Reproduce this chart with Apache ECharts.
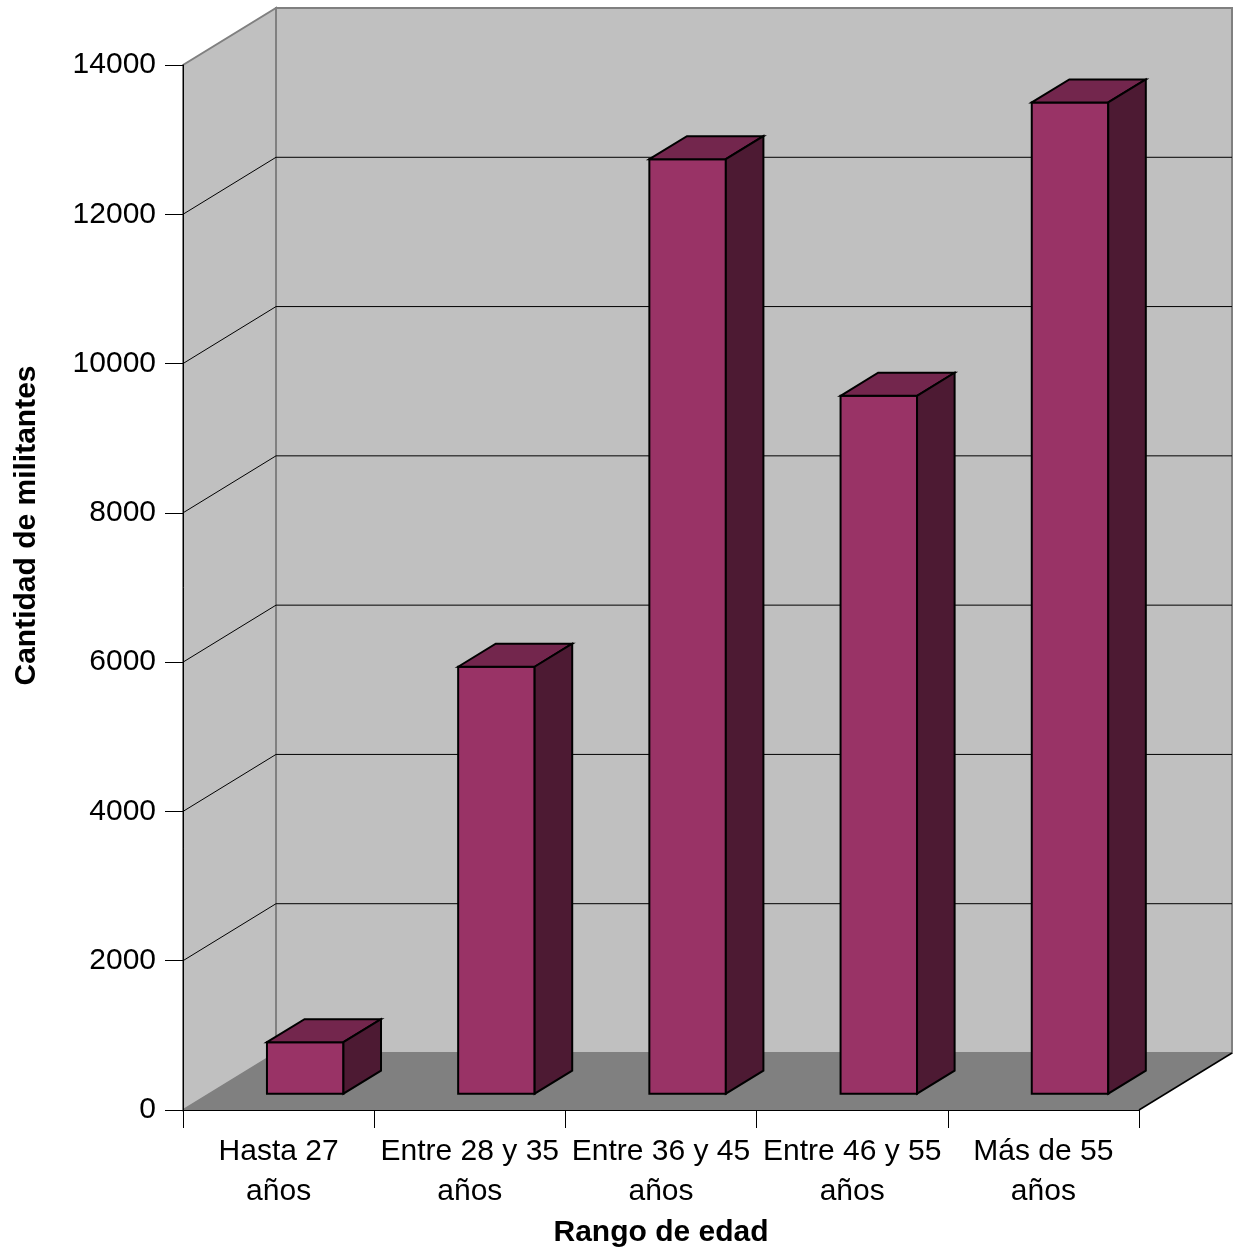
<!DOCTYPE html>
<html>
<head>
<meta charset="utf-8">
<script src="https://cdn.jsdelivr.net/npm/echarts@6/dist/echarts.min.js"></script>
<style>html,body{margin:0;padding:0;background:#fff;}#c{width:1244px;height:1254px;}</style>
</head>
<body>
<div id="c"></div>
<script>
const categories = ['Hasta 27\naños', 'Entre 28 y 35\naños', 'Entre 36 y 45\naños', 'Entre 46 y 55\naños', 'Más de 55\naños'];
const values = [690, 5720, 12520, 9350, 13280];
const yMin = 0, yMax = 14000, yStep = 2000;
const gridValues = [2000, 4000, 6000, 8000, 10000, 12000];

const FONT = "'Liberation Sans', Arial, sans-serif";
const DX = 93, DY = 57;       // depth of the 3D box (pixels)
const F1 = 0.286, F2 = 0.69;  // bar front/back depth fractions
const BAR_W = 0.40;           // bar width as fraction of category band

const chart = echarts.init(document.getElementById('c'), null, {renderer: 'canvas'});

function wallsItem(params, api) {
  const cs = params.coordSys;
  const x0 = cs.x, x1 = cs.x + cs.width;
  const y0 = api.coord([0, yMin])[1];
  const yT = api.coord([0, yMax])[1];
  const children = [];
  children.push({type: 'polygon', shape: {points: [[x0 + DX, yT - DY], [x1 + DX, yT - DY], [x1 + DX, y0 - DY], [x0 + DX, y0 - DY]]},
    style: {fill: '#c0c0c0', stroke: '#808080', lineWidth: 2}});
  children.push({type: 'polygon', shape: {points: [[x0, y0], [x0, yT], [x0 + DX, yT - DY], [x0 + DX, y0 - DY]]},
    style: {fill: '#c0c0c0', stroke: '#808080', lineWidth: 2}});
  gridValues.forEach(v => {
    const y = api.coord([0, v])[1];
    children.push({type: 'polyline', shape: {points: [[x0, y], [x0 + DX, y - DY], [x1 + DX, y - DY]]},
      style: {stroke: '#000', lineWidth: 1, fill: null}});
  });
  children.push({type: 'polygon', shape: {points: [[x0, y0], [x0 + DX, y0 - DY], [x1 + DX, y0 - DY], [x1, y0]]},
    style: {fill: '#808080', stroke: null}});
  children.push({type: 'line', shape: {x1: x1, y1: y0, x2: x1 + DX, y2: y0 - DY},
    style: {stroke: '#000', lineWidth: 1.5}});
  return {type: 'group', children: children};
}

function barItem(params, api) {
  const i = api.value(0), v = api.value(1);
  const base = api.coord([i, 0]);
  const top = api.coord([i, v]);
  const bw = api.size([1, 0])[0];
  const w = bw * BAR_W;
  const fx = base[0] + DX * F1;
  const fb = base[1] - DY * F1;
  const ft = top[1] - DY * F1;
  const dx = DX * (F2 - F1), dy = DY * (F2 - F1);
  const L = fx - w / 2, R = fx + w / 2;
  const st = {stroke: '#000', lineWidth: 2, lineJoin: 'miter'};
  return {type: 'group', children: [
    {type: 'polygon', shape: {points: [[L, ft], [R, ft], [R, fb], [L, fb]]}, style: Object.assign({fill: '#993366'}, st)},
    {type: 'polygon', shape: {points: [[L, ft], [L + dx, ft - dy], [R + dx, ft - dy], [R, ft]]}, style: Object.assign({fill: '#73264d'}, st)},
    {type: 'polygon', shape: {points: [[R, ft], [R + dx, ft - dy], [R + dx, fb - dy], [R, fb]]}, style: Object.assign({fill: '#4d1a33'}, st)}
  ]};
}

chart.setOption({
  backgroundColor: '#ffffff',
  animation: false,
  grid: {left: 183, right: 105, top: 65, bottom: 144, containLabel: false},
  xAxis: {
    type: 'category',
    data: categories,
    boundaryGap: true,
    name: 'Rango de edad',
    nameLocation: 'middle',
    nameGap: 108,
    nameTextStyle: {fontFamily: FONT, fontSize: 30, fontWeight: 'bold', color: '#000'},
    axisLine: {show: true, lineStyle: {color: '#000', width: 1}},
    axisTick: {show: true, length: 18, interval: 0, lineStyle: {color: '#000'}},
    axisLabel: {interval: 0, fontFamily: FONT, fontSize: 30, lineHeight: 40, color: '#000', margin: 22},
    splitLine: {show: false}
  },
  yAxis: {
    type: 'value',
    min: yMin, max: yMax, interval: yStep,
    name: 'Cantidad de militantes',
    nameLocation: 'middle',
    nameRotate: 90,
    nameGap: 141,
    nameTextStyle: {fontFamily: FONT, fontSize: 30, fontWeight: 'bold', color: '#000', padding: [0, 0, 0, 124]},
    axisLine: {show: true, lineStyle: {color: '#000', width: 1}},
    axisTick: {show: true, length: 18, lineStyle: {color: '#000'}},
    axisLabel: {fontFamily: FONT, fontSize: 30, color: '#000', margin: 27, formatter: v => String(v)},
    splitLine: {show: false}
  },
  series: [
    {type: 'custom', name: 'walls', z: -1, clip: false, silent: true, renderItem: wallsItem, data: [[0, 0]]},
    {type: 'custom', name: 'Militantes', z: 3, clip: false, renderItem: barItem,
     data: values.map((v, i) => [i, v])}
  ]
});
</script>
</body>
</html>
